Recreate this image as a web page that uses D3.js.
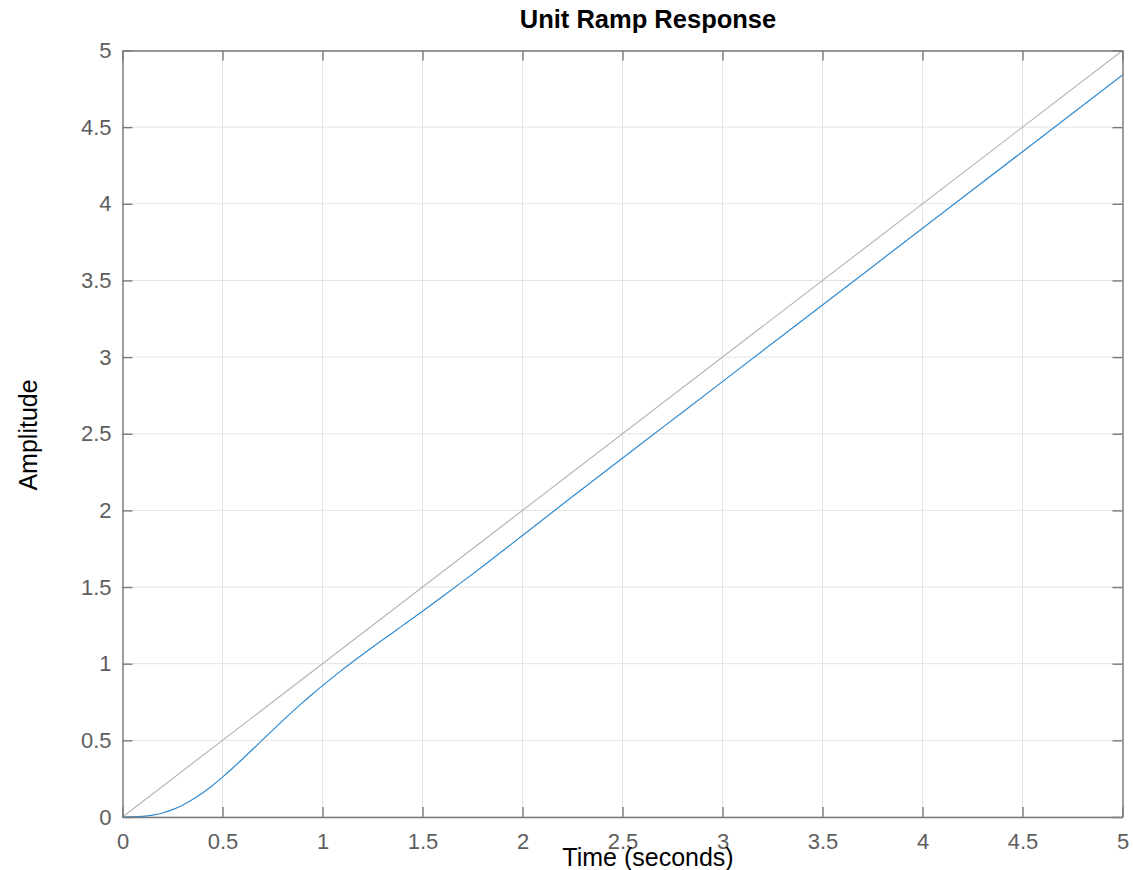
<!DOCTYPE html>
<html>
<head>
<meta charset="utf-8">
<script src="https://cdn.jsdelivr.net/npm/d3@7"></script>
<style>
  html, body { margin: 0; padding: 0; background: #fff; }
  svg { display: block; font-family: "Liberation Sans", Arial, Helvetica, sans-serif; }
</style>
</head>
<body>
<div id="chart"></div>
<script>
// Values
const timeValues = [0, 0.05, 0.1, 0.15, 0.2, 0.25, 0.3, 0.35, 0.4, 0.45, 0.5, 0.55, 0.6, 0.65, 0.7,
    0.75, 0.8, 0.85, 0.9, 0.95, 1.0, 1.1, 1.2, 1.3, 1.4, 1.5, 1.6, 1.7, 1.8, 1.9, 2.0,
    2.2, 2.4, 2.6, 2.8, 3.0, 3.5, 4.0, 4.5, 5.0];
const responseValues = [0, 0.0005, 0.0037, 0.0118, 0.0263, 0.048, 0.0771, 0.1137, 0.157, 0.2061, 0.2602,
    0.318, 0.3784, 0.4404, 0.5031, 0.5655, 0.6271, 0.6873, 0.7458, 0.8024, 0.8571,
    0.9613, 1.0598, 1.1548, 1.2484, 1.3425, 1.438, 1.5354, 1.6346, 1.7351, 1.8365,
    2.0396, 2.2412, 2.4412, 2.6404, 2.84, 3.34, 3.84, 4.34, 4.84];
const rampTime = [0, 5];
const rampValues = [0, 5];
const xTicks = [0, 0.5, 1, 1.5, 2, 2.5, 3, 3.5, 4, 4.5, 5];
const yTicks = [0, 0.5, 1, 1.5, 2, 2.5, 3, 3.5, 4, 4.5, 5];

const totalWidth = 1133;
const totalHeight = 870;
const margin = { top: 50.5, right: 10.5, bottom: 53, left: 122.5 };
const width = totalWidth - margin.left - margin.right;
const height = totalHeight - margin.top - margin.bottom;
const tickLen = 10;
const axisColor = '#7a7a7a';
const labelColor = '#5e5e5e';

const svgContainer = d3.select('#chart').append('svg')
    .attr('width', totalWidth)
    .attr('height', totalHeight);

const svg = svgContainer.append('g')
    .attr('transform', `translate(${margin.left},${margin.top})`);

const x = d3.scaleLinear().domain([0, 5]).range([0, width]);
const y = d3.scaleLinear().domain([0, 5]).range([height, 0]);

// Grid lines
const grid = svg.append('g').attr('class', 'grid');
grid.selectAll('.vgrid')
    .data(xTicks)
    .enter()
    .append('line')
    .attr('x1', d => x(d)).attr('x2', d => x(d))
    .attr('y1', 0).attr('y2', height)
    .attr('stroke', '#e3e3e3')
    .attr('stroke-width', 1);
grid.selectAll('.hgrid')
    .data(yTicks)
    .enter()
    .append('line')
    .attr('x1', 0).attr('x2', width)
    .attr('y1', d => y(d)).attr('y2', d => y(d))
    .attr('stroke', '#e3e3e3')
    .attr('stroke-width', 1);

// Lines
const line = d3.line()
    .x(d => x(d[0]))
    .y(d => y(d[1]))
    .curve(d3.curveMonotoneX);

svg.append('path')
    .datum(d3.zip(rampTime, rampValues))
    .attr('fill', 'none')
    .attr('stroke', '#b3b3b3')
    .attr('stroke-width', 1.1)
    .attr('d', line);

svg.append('path')
    .datum(d3.zip(timeValues, responseValues))
    .attr('fill', 'none')
    .attr('stroke', '#2f8ad0')
    .attr('stroke-width', 1.2)
    .attr('d', line);

// Axes: inward ticks on all four sides
const styleAxis = g => {
    g.select('.domain').attr('stroke', axisColor).attr('stroke-width', 1.4);
    g.selectAll('.tick line').attr('stroke', axisColor).attr('stroke-width', 1.4);
    g.selectAll('.tick text')
        .attr('fill', labelColor)
        .style('font-size', '22px');
};

svg.append('g')
    .attr('transform', `translate(0,${height})`)
    .call(d3.axisBottom(x).tickValues(xTicks).tickFormat(d3.format('')).tickSizeInner(-tickLen).tickSizeOuter(0).tickPadding(16))
    .call(styleAxis);

svg.append('g')
    .call(d3.axisTop(x).tickValues(xTicks).tickFormat('').tickSizeInner(-tickLen).tickSizeOuter(0))
    .call(styleAxis);

svg.append('g')
    .call(d3.axisLeft(y).tickValues(yTicks).tickFormat(d3.format('')).tickSizeInner(-tickLen).tickSizeOuter(0).tickPadding(11))
    .call(styleAxis);

svg.append('g')
    .attr('transform', `translate(${width},0)`)
    .call(d3.axisRight(y).tickValues(yTicks).tickFormat('').tickSizeInner(-tickLen).tickSizeOuter(0))
    .call(styleAxis);

// Title and axis labels
svgContainer.append('text')
    .attr('x', 648)
    .attr('y', 28)
    .attr('text-anchor', 'middle')
    .style('font-size', '25.5px')
    .style('font-weight', 'bold')
    .style('fill', '#000')
    .text('Unit Ramp Response');

svgContainer.append('text')
    .attr('x', 648)
    .attr('y', 866)
    .attr('text-anchor', 'middle')
    .style('font-size', '25px')
    .style('fill', '#000')
    .text('Time (seconds)');

svgContainer.append('text')
    .attr('transform', `translate(37,435) rotate(-90)`)
    .attr('text-anchor', 'middle')
    .style('font-size', '25px')
    .style('fill', '#000')
    .text('Amplitude');
</script>
</body>
</html>
